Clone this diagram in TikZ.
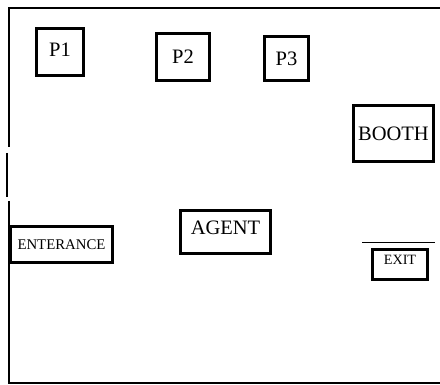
\documentclass[tikz,border=0pt]{standalone}
\usepackage{fontspec}
\setmainfont{Liberation Serif}
\tikzset{
    wall/.style={line width=2.8pt},
    roombox/.style={draw, line width=2.8pt, inner sep=0pt},
    bigtext/.style={font=\fontsize{20.5}{24}\selectfont},
    smalltext/.style={font=\fontsize{14.8}{18}\selectfont},
}

\begin{document}
\begin{tikzpicture}[x=1pt, y=-1pt]
    \useasboundingbox (0,0) rectangle (440,385);
    % outer walls of the hall
    \draw[wall] (440,8) -- (9,8) -- (9,147);
    \draw[wall, line width=2.2pt] (7,153) -- (7,197);
    \draw[wall] (9,201) -- (9,383) -- (440,383);
    % stalls
    \node[roombox, bigtext, minimum width=47pt, minimum height=47pt, text depth=5pt] (p1) at (60,52) {P1};
    \node[roombox, bigtext, minimum width=53pt, minimum height=47pt] (p2) at (183,57) {P2};
    \node[roombox, bigtext, minimum width=44pt, minimum height=44pt] (p3) at (286.5,58.5) {P3};
    \node[roombox, bigtext, minimum width=80pt, minimum height=56pt] (booth) at (393.5,133.5) {BOOTH};
    \node[roombox, bigtext, minimum width=90pt, minimum height=43pt, text depth=8pt] (agent) at (225.5,232) {AGENT};
    \node[roombox, smalltext, minimum width=102pt, minimum height=36pt] (entrance) at (61.5,244.5) {ENTERANCE\hspace{8pt}};
    \node[roombox, font=\fontsize{14.2}{17}\selectfont, minimum width=55pt, minimum height=30pt, text depth=10pt] (exit) at (400,264.5) {EXIT};
    \draw[line width=1.3pt] (362,242.5) -- (435,242.5);
\end{tikzpicture}
\end{document}
